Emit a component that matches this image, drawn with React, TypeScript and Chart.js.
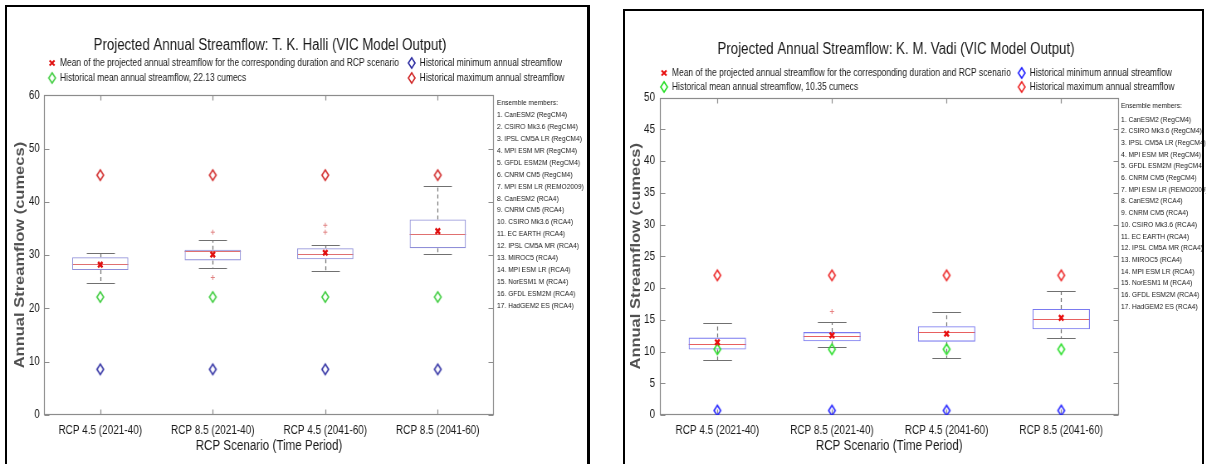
import { useEffect, useRef } from 'react';
import { Chart, registerables } from 'chart.js';

Chart.register(...registerables);

// ---------- data ----------
const categories = ['RCP 4.5 (2021-40)', 'RCP 8.5 (2021-40)', 'RCP 4.5 (2041-60)', 'RCP 8.5 (2041-60)'];

const ensembleMembers = [
  '1. CanESM2 (RegCM4)',
  '2. CSIRO Mk3.6 (RegCM4)',
  '3. IPSL CM5A LR (RegCM4)',
  '4. MPI ESM MR (RegCM4)',
  '5. GFDL ESM2M (RegCM4)',
  '6. CNRM CM5 (RegCM4)',
  '7. MPI ESM LR (REMO2009)',
  '8. CanESM2 (RCA4)',
  '9. CNRM CM5 (RCA4)',
  '10. CSIRO Mk3.6 (RCA4)',
  '11. EC EARTH (RCA4)',
  '12. IPSL CM5A MR (RCA4)',
  '13. MIROC5 (RCA4)',
  '14. MPI ESM LR (RCA4)',
  '15. NorESM1 M (RCA4)',
  '16. GFDL ESM2M (RCA4)',
  '17. HadGEM2 ES (RCA4)',
];

// T. K. Halli
const halliYTicks = [0, 10, 20, 30, 40, 50, 60];
const halliQ1 = [27.2, 29.0, 29.2, 31.3];
const halliQ3 = [29.6, 31.0, 31.3, 36.7];
const halliMedian = [28.3, 30.8, 30.2, 33.9];
const halliWhiskerLow = [24.8, 27.5, 27.1, 30.2];
const halliWhiskerHigh = [30.45, 32.8, 31.9, 42.9];
const halliMean = [28.2, 30.1, 30.45, 34.5];
const halliOutliers = [
  { x: 'RCP 8.5 (2021-40)', y: 34.3 },
  { x: 'RCP 8.5 (2021-40)', y: 25.8 },
  { x: 'RCP 4.5 (2041-60)', y: 35.6 },
  { x: 'RCP 4.5 (2041-60)', y: 34.3 },
];
const halliHistMean = [22.13, 22.13, 22.13, 22.13];
const halliHistMin = [8.57, 8.57, 8.57, 8.57];
const halliHistMax = [45.0, 45.0, 45.0, 45.0];

// K. M. Vadi
const vadiYTicks = [0, 5, 10, 15, 20, 25, 30, 35, 40, 45, 50];
const vadiQ1 = [10.3, 11.6, 11.55, 13.5];
const vadiQ3 = [12.2, 13.07, 14.0, 16.7];
const vadiMedian = [11.2, 12.4, 13.0, 15.2];
const vadiWhiskerLow = [8.6, 10.7, 9.0, 12.2];
const vadiWhiskerHigh = [14.5, 14.65, 16.2, 19.6];
const vadiMean = [11.45, 12.55, 12.8, 15.3];
const vadiOutliers = [{ x: 'RCP 8.5 (2021-40)', y: 16.3 }];
const vadiHistMean = [10.35, 10.35, 10.35, 10.35];
const vadiHistMin = [0.7, 0.7, 0.7, 0.7];
const vadiHistMax = [22.0, 22.0, 22.0, 22.0];

// ---------- styling ----------
// The figure is horizontally condensed, so each canvas is drawn wider and squeezed with CSS.
const SQUEEZE = 0.83;
const FONT = "'Liberation Sans', Arial, sans-serif";

function makeDiamond(color: string): HTMLCanvasElement {
  const w = 8, h = 10.5, lw = 1.6;
  const c = document.createElement('canvas');
  c.width = 14;
  c.height = 16;
  const g = c.getContext('2d')!;
  g.strokeStyle = color;
  g.lineWidth = lw;
  const cx = c.width / 2, cy = c.height / 2;
  g.beginPath();
  g.moveTo(cx, cy - h / 2);
  g.lineTo(cx + w / 2, cy);
  g.lineTo(cx, cy + h / 2);
  g.lineTo(cx - w / 2, cy);
  g.closePath();
  g.stroke();
  return c;
}

type Layout = {
  left: number;
  width: number;
  titlePadTop: number;
  titlePadBottom: number;
  padRight: number;
  yAxisWidth: number;
  rightAxisWidth: number;
  yTitlePad: number;
  yTickPad: number;
  legendMarkerX: number[];
  legendTextX: number[];
  legendRowY: number[];
  listX: number;
  listHeaderY: number;
  listFirstY: number;
  listStep: number;
};

type Colors = {
  box: string;
  median: string;
  whisker: string;
  mean: string;
  outlier: string;
  max: string;
  min: string;
  hmean: string;
  axis: string;
};

type PanelProps = {
  title: string;
  yTicks: number[];
  q1: number[];
  q3: number[];
  median: number[];
  whiskerLow: number[];
  whiskerHigh: number[];
  mean: number[];
  outliers: { x: string; y: number }[];
  histMean: number[];
  histMin: number[];
  histMax: number[];
  histMeanText: string;
  layout: Layout;
  colors: Colors;
};

function Panel(p: PanelProps) {
  const ref = useRef<HTMLCanvasElement>(null);
  useEffect(() => {
    const canvas = ref.current!;
    const L = p.layout;
    const C = p.colors;
    const yMin = p.yTicks[0];
    const yMax = p.yTicks[p.yTicks.length - 1];
    const step = p.yTicks[1] - p.yTicks[0];
    const dMax = makeDiamond(C.max);
    const dMin = makeDiamond(C.min);
    const dMean = makeDiamond(C.hmean);

    const axesBox = {
      id: 'axesBox',
      beforeDatasetsDraw(chart: any) {
        const { ctx, chartArea: a } = chart;
        const xs = chart.scales.x, ys = chart.scales.y;
        ctx.save();
        ctx.strokeStyle = C.axis;
        ctx.lineWidth = 1.2;
        const l = Math.round(a.left) + 0.5, r = Math.round(a.right) - 0.5;
        const t = Math.round(a.top) + 0.5, b = Math.round(a.bottom) - 0.5;
        ctx.strokeRect(l, t, r - l, b - t);
        const tlx = 6, tly = 5;
        ctx.beginPath();
        ys.ticks.forEach((_: any, i: number) => {
          const py = Math.round(ys.getPixelForTick(i)) + 0.5;
          ctx.moveTo(l, py); ctx.lineTo(l + tlx, py);
          ctx.moveTo(r, py); ctx.lineTo(r - tlx, py);
        });
        xs.ticks.forEach((_: any, i: number) => {
          const px = Math.round(xs.getPixelForTick(i)) + 0.5;
          ctx.moveTo(px, b); ctx.lineTo(px, b - tly);
          ctx.moveTo(px, t); ctx.lineTo(px, t + tly);
        });
        ctx.stroke();
        ctx.restore();
      },
    };

    const boxExtras = {
      id: 'boxExtras',
      beforeDatasetsDraw(chart: any) {
        const { ctx } = chart;
        const ys = chart.scales.y;
        const meta = chart.getDatasetMeta(0);
        ctx.save();
        meta.data.forEach((bar: any, i: number) => {
          const cx = Math.round(bar.x) + 0.5;
          const w = bar.width;
          const yq1 = ys.getPixelForValue(p.q1[i]);
          const yq3 = ys.getPixelForValue(p.q3[i]);
          const ylo = Math.round(ys.getPixelForValue(p.whiskerLow[i])) + 0.5;
          const yhi = Math.round(ys.getPixelForValue(p.whiskerHigh[i])) + 0.5;
          const ymed = Math.round(ys.getPixelForValue(p.median[i])) + 0.5;
          ctx.lineWidth = 1.2;
          ctx.strokeStyle = C.whisker;
          ctx.setLineDash([4, 3]);
          ctx.beginPath();
          ctx.moveTo(cx, yq3); ctx.lineTo(cx, yhi);
          ctx.moveTo(cx, yq1); ctx.lineTo(cx, ylo);
          ctx.stroke();
          ctx.setLineDash([]);
          ctx.lineWidth = 1;
          ctx.beginPath();
          ctx.moveTo(cx - w / 4, yhi); ctx.lineTo(cx + w / 4, yhi);
          ctx.moveTo(cx - w / 4, ylo); ctx.lineTo(cx + w / 4, ylo);
          ctx.stroke();
          ctx.strokeStyle = C.median;
          ctx.beginPath();
          ctx.moveTo(bar.x - w / 2, ymed); ctx.lineTo(bar.x + w / 2, ymed);
          ctx.stroke();
        });
        ctx.restore();
      },
    };

    const legendAndList = {
      id: 'legendAndList',
      afterDraw(chart: any) {
        const { ctx } = chart;
        ctx.save();
        ctx.font = `10.2px ${FONT}`;
        ctx.fillStyle = '#1a1a1a';
        ctx.textBaseline = 'middle';
        ctx.textAlign = 'left';
        const items = [
          { kind: 'x', col: 0, row: 0, text: 'Mean of the projected annual streamflow for the corresponding duration and RCP scenario' },
          { kind: 'min', col: 1, row: 0, text: 'Historical minimum annual streamflow' },
          { kind: 'hmean', col: 0, row: 1, text: p.histMeanText },
          { kind: 'max', col: 1, row: 1, text: 'Historical maximum annual streamflow' },
        ];
        items.forEach((it) => {
          const mx = L.legendMarkerX[it.col];
          const my = L.legendRowY[it.row];
          if (it.kind === 'x') {
            ctx.strokeStyle = C.mean;
            ctx.lineWidth = 2.2;
            ctx.beginPath();
            ctx.moveTo(mx - 3, my - 2.5); ctx.lineTo(mx + 3, my + 2.5);
            ctx.moveTo(mx + 3, my - 2.5); ctx.lineTo(mx - 3, my + 2.5);
            ctx.stroke();
          } else {
            const img = it.kind === 'min' ? dMin : it.kind === 'max' ? dMax : dMean;
            ctx.drawImage(img, mx - img.width / 2, my - img.height / 2);
          }
          ctx.fillText(it.text, L.legendTextX[it.col], my);
        });
        ctx.font = `8px ${FONT}`;
        ctx.fillText('Ensemble members:', L.listX, L.listHeaderY);
        ensembleMembers.forEach((m, i) => {
          ctx.fillText(m, L.listX, L.listFirstY + i * L.listStep);
        });
        ctx.restore();
      },
    };

    const chart = new Chart(canvas, {
      type: 'bar',
      data: {
        labels: categories,
        datasets: [
          {
            type: 'bar',
            label: 'Ensemble spread',
            data: categories.map((_, i) => [p.q1[i], p.q3[i]]) as any,
            backgroundColor: 'rgba(255,255,255,0)',
            borderColor: C.box,
            borderWidth: 1.1,
            borderSkipped: false,
            barPercentage: 0.5,
            categoryPercentage: 1,
            order: 10,
          } as any,
          {
            type: 'line',
            label: 'Historical maximum annual streamflow',
            data: p.histMax,
            showLine: false,
            pointStyle: dMax as any,
            pointRadius: 5,
            order: 3,
          },
          {
            type: 'line',
            label: 'Historical mean annual streamflow',
            data: p.histMean,
            showLine: false,
            pointStyle: dMean as any,
            pointRadius: 5,
            order: 3,
          },
          {
            type: 'line',
            label: 'Historical minimum annual streamflow',
            data: p.histMin,
            showLine: false,
            pointStyle: dMin as any,
            pointRadius: 5,
            order: 3,
          },
          {
            type: 'line',
            label: 'Outliers',
            data: p.outliers as any,
            showLine: false,
            pointStyle: 'cross',
            pointRadius: 2.5,
            pointBorderWidth: 1,
            pointBorderColor: C.outlier,
            order: 2,
          },
          {
            type: 'line',
            label: 'Mean of projected annual streamflow',
            data: p.mean,
            showLine: false,
            pointStyle: 'crossRot',
            pointRadius: 3.8,
            pointBorderWidth: 2.5,
            pointBorderColor: C.mean,
            order: 1,
          },
        ],
      },
      options: {
        responsive: false,
        animation: false,
        events: [],
        layout: { padding: { left: 0, right: L.padRight, top: 0, bottom: 0 } },
        plugins: {
          legend: { display: false },
          tooltip: { enabled: false },
          title: {
            display: true,
            text: p.title,
            color: '#1a1a1a',
            font: { family: FONT, size: 16, weight: 'normal' as any, lineHeight: 1.2 },
            padding: { top: L.titlePadTop, bottom: L.titlePadBottom },
          },
        },
        scales: {
          x: {
            type: 'category',
            offset: true,
            grid: { display: false, drawTicks: false },
            border: { display: false },
            ticks: {
              color: '#1a1a1a',
              font: { family: FONT, size: 12 },
              padding: 8,
              maxRotation: 0,
              autoSkip: false,
            },
            title: {
              display: true,
              text: 'RCP Scenario (Time Period)',
              color: '#1a1a1a',
              font: { family: FONT, size: 14, lineHeight: 1.2 },
              padding: { top: 0, bottom: 9 },
            },
            afterFit: (s: any) => { s.height = 49; },
          },
          y: {
            type: 'linear',
            min: yMin,
            max: yMax,
            grid: { display: false, drawTicks: false },
            border: { display: false },
            ticks: {
              stepSize: step,
              color: '#1a1a1a',
              font: { family: FONT, size: 12 },
              padding: L.yTickPad,
            },
            title: {
              display: true,
              text: 'Annual Streamflow (cumecs)',
              color: '#505050',
              font: { family: FONT, size: 16.5, weight: 'bold' as any, lineHeight: 1.2 },
              padding: { top: L.yTitlePad, bottom: 0 },
            },
            afterFit: (s: any) => { s.width = L.yAxisWidth; },
          },
          yPad: {
            type: 'linear',
            position: 'right',
            display: true,
            grid: { display: false, drawTicks: false },
            border: { display: false },
            ticks: { display: false },
            afterFit: (s: any) => { s.width = L.rightAxisWidth; },
          },
        } as any,
      },
      plugins: [axesBox, boxExtras, legendAndList],
    });
    return () => chart.destroy();
  }, []);
  return (
    <div
      style={{
        position: 'absolute',
        left: p.layout.left,
        top: 0,
        width: p.layout.width,
        height: 464,
        transform: `scaleX(${SQUEEZE})`,
        transformOrigin: '0 0',
      }}
    >
      <canvas ref={ref} width={p.layout.width} height={464} style={{ display: 'block', width: p.layout.width, height: 464 }} />
    </div>
  );
}

// Layout values are in the un-squeezed canvas coordinates.
const halliLayout: Layout = {
  left: 0,
  width: 723,
  titlePadTop: 36,
  titlePadBottom: 40,
  padRight: 72.4,
  yAxisWidth: 53,
  rightAxisWidth: 55.4,
  yTitlePad: 14.2,
  yTickPad: 5,
  legendMarkerX: [62.7, 496],
  legendTextX: [72.3, 505.6],
  legendRowY: [63, 78],
  listX: 598.8,
  listHeaderY: 103,
  listFirstY: 115,
  listStep: 11.9,
};

const vadiLayout: Layout = {
  left: 606,
  width: 723,
  titlePadTop: 40.4,
  titlePadBottom: 38,
  padRight: 24.2,
  yAxisWidth: 65.1,
  rightAxisWidth: 81.3,
  yTitlePad: 26.2,
  yTickPad: 6,
  legendMarkerX: [69.9, 500.8],
  legendTextX: [79.5, 510.4],
  legendRowY: [73, 87],
  listX: 620.5,
  listHeaderY: 106,
  listFirstY: 119.3,
  listStep: 11.7,
};

const halliColors: Colors = {
  box: '#8f8fd8',
  median: '#e07070',
  whisker: '#707070',
  mean: '#e01010',
  outlier: '#e08080',
  max: '#d02525',
  min: '#2a2aa0',
  hmean: '#3ccc3c',
  axis: '#8c8c8c',
};

const vadiColors: Colors = {
  box: '#7a7af0',
  median: '#e86060',
  whisker: '#707070',
  mean: '#e81010',
  outlier: '#e88080',
  max: '#ec2020',
  min: '#1a1aff',
  hmean: '#22dd22',
  axis: '#8c8c8c',
};

export default function App() {
  return (
    <div style={{ position: 'absolute', left: 0, top: 0, width: 1206, height: 464, background: '#fff', overflow: 'hidden' }}>
      <Panel
        title="Projected Annual Streamflow: T. K. Halli (VIC Model Output)"
        yTicks={halliYTicks}
        q1={halliQ1}
        q3={halliQ3}
        median={halliMedian}
        whiskerLow={halliWhiskerLow}
        whiskerHigh={halliWhiskerHigh}
        mean={halliMean}
        outliers={halliOutliers}
        histMean={halliHistMean}
        histMin={halliHistMin}
        histMax={halliHistMax}
        histMeanText="Historical mean annual streamflow, 22.13 cumecs"
        layout={halliLayout}
        colors={halliColors}
      />
      <Panel
        title="Projected Annual Streamflow: K. M. Vadi (VIC Model Output)"
        yTicks={vadiYTicks}
        q1={vadiQ1}
        q3={vadiQ3}
        median={vadiMedian}
        whiskerLow={vadiWhiskerLow}
        whiskerHigh={vadiWhiskerHigh}
        mean={vadiMean}
        outliers={vadiOutliers}
        histMean={vadiHistMean}
        histMin={vadiHistMin}
        histMax={vadiHistMax}
        histMeanText="Historical mean annual streamflow, 10.35 cumecs"
        layout={vadiLayout}
        colors={vadiColors}
      />
      <div
        style={{
          position: 'absolute', left: 5, top: 5, width: 580, height: 480,
          borderLeft: '2px solid #000', borderTop: '2px solid #000', borderRight: '3px solid #000',
          pointerEvents: 'none',
        }}
      />
      <div
        style={{
          position: 'absolute', left: 623, top: 9, width: 577, height: 480,
          border: '2px solid #000', pointerEvents: 'none',
        }}
      />
    </div>
  );
}
